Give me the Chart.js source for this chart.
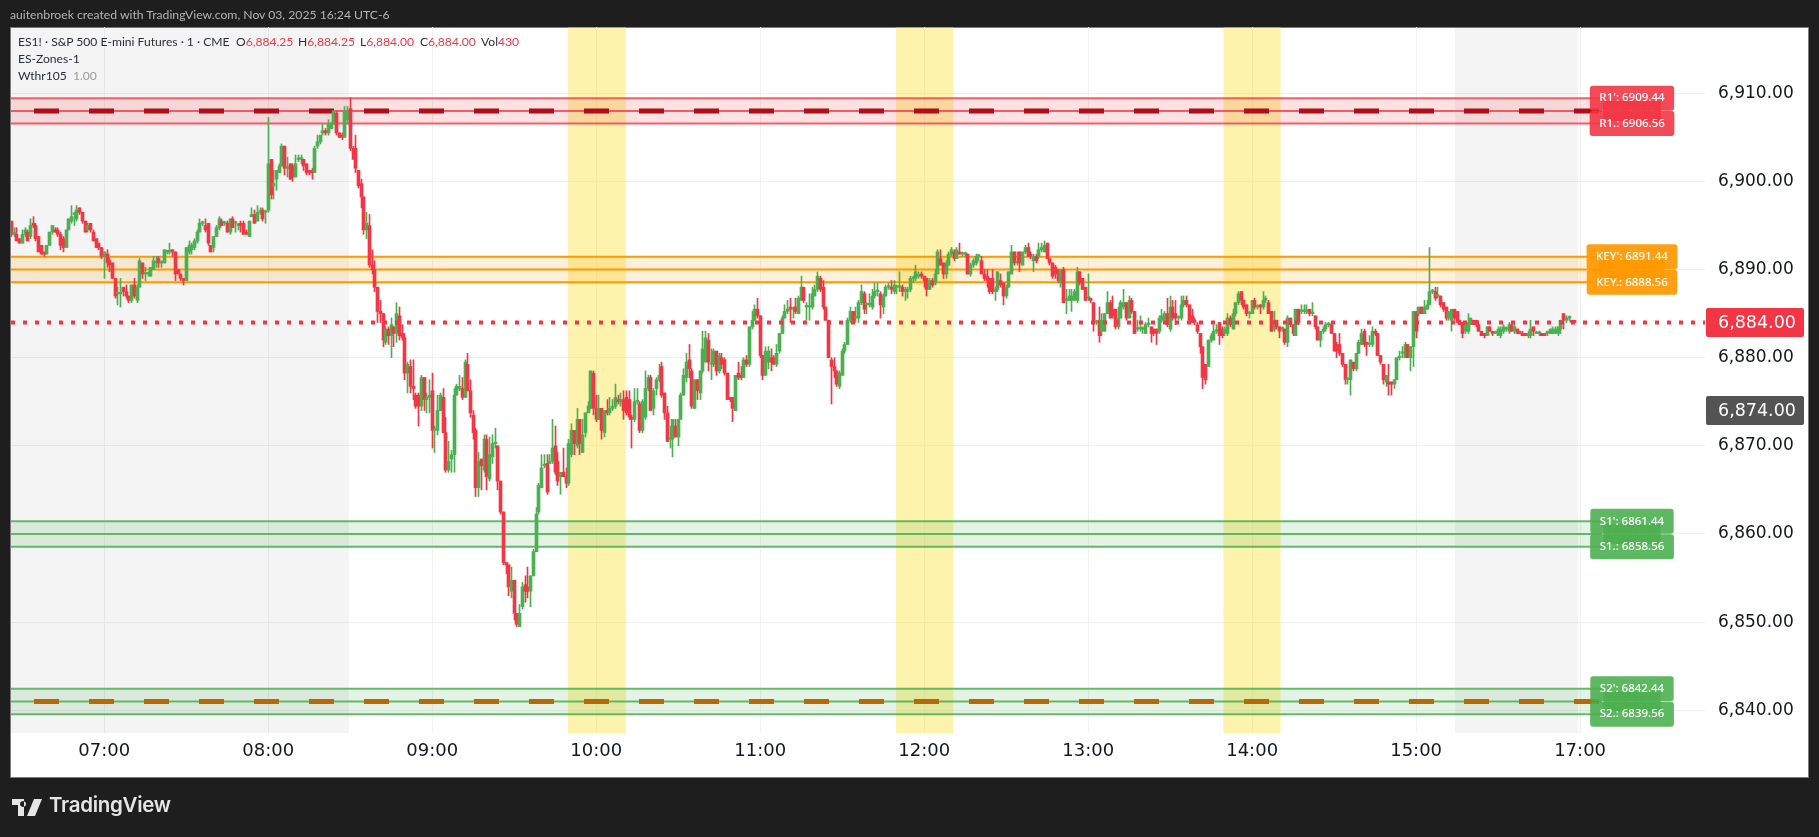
<!DOCTYPE html>
<html>
<head>
<meta charset="utf-8">
<title>ES1! 1 minute</title>
<script src="https://cdn.jsdelivr.net/npm/chart.js@4/dist/chart.umd.min.js"></script>
<style>
  html, body { margin: 0; padding: 0; background: #1e1e1e; overflow: hidden; }
  #wrap { position: relative; width: 1819px; height: 837px; }
  canvas { position: absolute; left: 0; top: 0; }
  .txt { position: absolute; white-space: pre; font-family: Lato, sans-serif; }
  #credit { left: 10px; top: 7px; font-size: 12.2px; letter-spacing: 0; color: #b4b4b4; }
  .leg { font-size: 12.1px; color: #2a2e39; }
  .leg b { font-weight: 400; color: #f23645; }
  .leg i { font-style: normal; color: #9a9a9a; }
  #brand { left: 49px; top: 792px; font-family: Inter, sans-serif; font-size: 20.5px; font-weight: 600; color: #e6e6e6; letter-spacing: -0.3px; }
  #logo { position: absolute; left: 12px; top: 799px; }
</style>
</head>
<body>
<div id="wrap">
  <canvas id="chart" width="1819" height="837"></canvas>
  <div class="txt" id="credit">auitenbroek created with TradingView.com, Nov 03, 2025 16:24 UTC-6</div>
  <div class="txt leg" style="left:18px;top:34px">ES1! · S&amp;P 500 E-mini Futures · 1 · CME</div>
  <div class="txt leg" style="left:236px;top:34px">O<b>6,884.25</b></div>
  <div class="txt leg" style="left:298px;top:34px">H<b>6,884.25</b></div>
  <div class="txt leg" style="left:360px;top:34px">L<b>6,884.00</b></div>
  <div class="txt leg" style="left:420px;top:34px">C<b>6,884.00</b></div>
  <div class="txt leg" style="left:481px;top:34px">Vol<b>430</b></div>
  <div class="txt leg" style="left:18px;top:51px">ES-Zones-1</div>
  <div class="txt leg" style="left:18px;top:68px">Wthr105  <i>1.00</i></div>
  <svg id="logo" width="30" height="17" viewBox="0 0 30 17"><path fill="#e6e6e6" d="M0 0h12v17H6V6H0zM14 5a3 3 0 1 0 0 .01zM22 0h8l-7 17h-8z"/></svg>
  <div class="txt" id="brand">TradingView</div>
</div>
<script>
// bar number 0 is 07:00, one bar per minute
const firstBar = -34;

const opens = [
  6895.5,6894,6894,6893.5,6893,6894,6894.25,6893.75,6895.25,6895,
  6893.75,6892.75,6892,6891.75,6892.75,6894.25,6894.5,6894.5,6894,6893.5,
  6892.5,6894.5,6895.5,6896.25,6895.75,6897,6896.5,6895.5,6894.5,6895.25,
  6894.25,6893.5,6893,6892.5,6891.5,6891.75,6891,6890.75,6889,6887.25,
  6887.25,6888,6887.5,6887,6886.5,6888.25,6886.5,6888,6890.75,6889.5,
  6889.5,6889.25,6890,6890.75,6891.25,6890.75,6890.75,6892,6892,6892.25,
  6892,6890,6889.5,6889,6888.75,6892,6892.25,6892.5,6893.25,6894.25,
  6895.25,6895,6895.25,6892.75,6892.5,6893.75,6894.75,6895.5,6895.25,6895.25,
  6894.25,6895.75,6895.25,6895,6895.25,6895.25,6894.25,6893.75,6896,6896.25,
  6895.5,6896.5,6896.75,6896.5,6896.75,6902.5,6899.5,6900.25,6901,6901.75,
  6904,6901.5,6902,6901.75,6900.5,6902.5,6902.5,6902.5,6902,6901.25,
  6901.25,6901,6904,6904.5,6905.5,6905.75,6905.5,6906,6906.5,6907.75,
  6905.5,6905.25,6905,6907,6908.25,6903.75,6903.75,6901.25,6899.75,6898.25,
  6894.5,6895,6890.5,6890,6888,6885.25,6885,6881.75,6883.25,6882.5,
  6883.5,6882.75,6884.75,6882.75,6882.25,6878.25,6879,6876.75,6875.75,6875.75,
  6874.5,6877.75,6875.25,6875.5,6876.25,6871.75,6871.75,6874,6875.5,6871.5,
  6867.25,6868.5,6869,6875.75,6876.5,6876.5,6875.5,6879.25,6876.25,6873.5,
  6871.75,6865.25,6868.5,6867.25,6870.75,6866.25,6868.75,6870.25,6870,6866,
  6862.5,6856.75,6856.5,6853.5,6854.75,6851,6849.5,6851.75,6854.25,6854,
  6853.5,6855.25,6858,6862.5,6865.25,6867.75,6868,6868,6868.25,6870,
  6868.25,6866.5,6867,6866.5,6865.75,6869,6871.75,6870,6873,6869.25,
  6871.5,6873.75,6874.25,6878.25,6874.25,6873,6874.25,6871.5,6874,6873.75,
  6874.25,6874.5,6875.25,6875,6875.25,6875.5,6875.25,6873.25,6873,6875,
  6874.75,6871.75,6873.25,6876.5,6877.75,6874.25,6876.5,6877.5,6879,6876,
  6873.75,6870.75,6870.75,6872.25,6871,6873,6875.75,6877.75,6879.75,6878.5,
  6874.25,6877.5,6876,6878.5,6879.5,6882,6879.25,6879.25,6880.75,6878.5,
  6880,6879.75,6878.25,6875.5,6875.5,6874,6878.25,6878,6877.75,6879.75,
  6879.25,6883.5,6884.25,6885.5,6884.75,6880.25,6878,6879.5,6880,6880,
  6879.25,6880.75,6882.75,6884.5,6885.25,6885.75,6885.5,6885.75,6885,6886.5,
  6888,6885.75,6885.75,6885.75,6887,6887.75,6889,6888,6885.75,6884.25,
  6879.75,6879,6878.5,6876.75,6878,6880.75,6881.5,6884.25,6885.25,6884.5,
  6884.5,6886.25,6887.25,6886,6886,6885.75,6887,6887.5,6887.25,6885.75,
  6887,6888,6888,6887.5,6888,6888,6888,6887.5,6887.5,6887.75,
  6889,6889,6889.25,6889.5,6889.25,6889,6887.75,6888.75,6888.5,6889.5,
  6891.25,6890.75,6889.5,6890.5,6891.75,6892,6891.25,6892,6891.75,6891.75,
  6891.75,6889.5,6890.5,6890.75,6891.5,6891,6889.5,6889.25,6889,6889,
  6887.5,6887.75,6888.75,6888.5,6887,6888,6889.5,6892,6890.75,6892,
  6890.5,6892,6892.5,6891.75,6891,6891.5,6891.5,6892.25,6892,6893,
  6891.25,6890.75,6890.25,6890,6888.5,6890,6886.5,6886.5,6886.5,6886.5,
  6886.5,6889.75,6889,6888,6886.75,6886.75,6886.25,6884,6884.25,6883,
  6883,6885,6886.25,6885.5,6885.5,6883.5,6884.5,6885.75,6886.25,6884.5,
  6886.5,6885.25,6883.25,6883.25,6883.25,6882.75,6883.75,6883.5,6883.25,6883.25,
  6883,6884.25,6884.25,6885,6883.25,6885.75,6885,6884.5,6884.5,6886,
  6886.5,6886,6884.75,6884.25,6883.75,6882.75,6881.25,6879.25,6879,6882,
  6882,6883,6884,6883.25,6882.75,6882.75,6884.5,6883.25,6885,6886.25,
  6887.5,6886.5,6886,6885,6885,6886.5,6885.75,6886,6885.75,6886.5,
  6886.25,6885.25,6883.25,6884.25,6883.5,6883.25,6883.25,6881.75,6884.5,6883.75,
  6882.5,6885.5,6885.25,6885.25,6885.25,6885.5,6885,6884.75,6883.5,6882,
  6883,6883.25,6883.75,6883.75,6882.75,6881.5,6881.5,6880.5,6879.25,6877.5,
  6877.5,6879.5,6878.75,6880.5,6881.5,6883,6881.75,6881.5,6881.5,6883,
  6882.75,6880.25,6879.25,6877.25,6877.25,6877.25,6877,6877.5,6880,6880.5,
  6880,6881.5,6880,6881.25,6885.25,6885,6885.75,6885,6885.5,6886,
  6887.5,6887.5,6887,6887,6886.25,6885.75,6884.5,6884.25,6885.5,6885.25,
  6884.25,6884,6883,6883,6883.75,6884.25,6884.25,6883.75,6883,6882.75,
  6882.5,6883.5,6883,6882.75,6882.5,6882.5,6883,6883.25,6883,6883.75,
  6883,6883.25,6883,6882.75,6882.75,6882.5,6882.5,6883.5,6882.75,6882.75,
  6882.75,6882.75,6882.75,6882.75,6882.75,6882.75,6882.75,6883.25,6885,6884.25,
  6884.5,6884.25,6884.25
];
const closes = [
  6894,6894.25,6893.25,6893,6894,6894.5,6893.25,6895,6895,6893.5,
  6892,6891.75,6891.75,6892.75,6894.25,6895,6894.25,6894,6892.75,6892.5,
  6894.5,6895.75,6896,6896.25,6896.75,6896.5,6895.5,6894.25,6895,6894.5,
  6893.25,6892.5,6892.5,6891.5,6892,6890.75,6890.5,6889,6887,6887.25,
  6887.25,6887.5,6887,6886.5,6888.25,6887,6888,6891,6889.5,6889.5,
  6889.5,6890.25,6891,6890.75,6890.75,6890.75,6892.25,6892,6892,6892,
  6889.5,6889.5,6889,6888.75,6892.5,6892.75,6892.75,6893.25,6894.25,6895.25,
  6895.25,6894.5,6893,6892,6893.75,6894.75,6895.75,6895,6895.25,6894.25,
  6895.75,6894.75,6895.25,6895,6895,6894,6894,6895.5,6896.25,6895.25,
  6896.5,6896.5,6895.75,6896.5,6902,6898.5,6899.75,6901.25,6901.75,6904,
  6901.5,6901.5,6900.25,6900.5,6902,6902.5,6902.5,6901.75,6901,6901,
  6901,6903.75,6904.5,6905.25,6905.75,6905.5,6906.5,6906.5,6908,6905.5,
  6905,6905,6908,6908,6903.75,6902.5,6901.5,6899.5,6898.25,6894.5,
  6895.25,6890.5,6890,6888,6885.25,6885,6882,6883.25,6882.5,6883.75,
  6882.75,6885,6882.5,6882.25,6878.25,6879.25,6876.75,6876.5,6874.5,6874.5,
  6877.75,6875.25,6875.5,6875.75,6871.75,6871.75,6874,6875.75,6871.5,6867.25,
  6868.25,6869,6875.75,6876.75,6876.75,6875.5,6879.5,6876.25,6873.75,6871.5,
  6865.25,6868.25,6867.75,6870.75,6866.5,6869,6870.25,6870.25,6866,6862.5,
  6856.75,6856.5,6854,6854.75,6851,6849.75,6851,6854,6853.5,6853.5,
  6855.25,6858,6862.25,6865.5,6867.5,6867.75,6864.75,6868.25,6869.75,6867,
  6866,6867,6866.5,6865.75,6870.25,6871.75,6870.25,6873,6870.25,6871.25,
  6873.75,6874.5,6878.5,6874.25,6873,6874.25,6871.75,6874,6873.75,6874.25,
  6874.5,6875.5,6875,6875.25,6874,6873.75,6873.25,6873,6875,6875,
  6871.75,6875,6876.5,6877.75,6874,6876.25,6877.5,6878,6875.75,6873.75,
  6870.5,6870.75,6873,6871,6873,6875.75,6878,6879.5,6878.75,6874.5,
  6877.5,6876.25,6878.5,6881,6882.25,6879.5,6879.25,6880.75,6878.5,6880.25,
  6879.25,6878.25,6875.25,6875.25,6874.25,6878,6877.75,6877.75,6879.75,6879.25,
  6883.5,6884.25,6885.5,6884.75,6880.25,6878,6880.75,6880.75,6879.5,6879.25,
  6880.5,6882.75,6884.5,6885.25,6885.5,6885.5,6885.5,6885.25,6886.75,6888,
  6886.5,6885.75,6885.75,6887.25,6887.75,6889.25,6887.75,6885.75,6884.25,6880,
  6879,6878.5,6877,6878.25,6880.75,6881.5,6884.25,6885.25,6884.25,6884.5,
  6886.25,6887.5,6885.5,6886,6886,6887,6887.5,6887.5,6886,6887,
  6888,6888,6887.75,6888.25,6888,6888,6887.5,6887.75,6887.75,6889,
  6889,6889.75,6889.25,6889.25,6888.75,6887.75,6888.75,6888.25,6889.5,6892,
  6890.5,6889.5,6890.75,6891.75,6892.25,6891.25,6892.25,6891.75,6891.75,6891.75,
  6889.5,6890.5,6891,6891.5,6891.5,6889.5,6889,6888.75,6887.5,6887.5,
  6887.75,6889.75,6888.25,6887,6888,6889.75,6892,6890.75,6890.75,6890.75,
  6892,6892.5,6891.5,6891.5,6891.5,6891,6892.25,6892.5,6892.75,6891.25,
  6890.75,6889.25,6889.5,6888.75,6890,6886.25,6886.5,6887,6887,6887.5,
  6889.75,6888.5,6887.75,6886.5,6886.75,6886.5,6884,6884,6882.5,6884.25,
  6885,6886.25,6884.5,6884.75,6883.5,6884.5,6886.25,6886.25,6884.5,6886.5,
  6885.25,6882.75,6883.25,6883.25,6883.25,6883.75,6883.75,6882.75,6882.75,6882.75,
  6884.5,6884.75,6885,6883.75,6885.75,6884.5,6884.5,6884.5,6886,6886.5,
  6886,6884.25,6884,6884,6883,6881.25,6877.75,6877.5,6882,6882.5,
  6883,6883,6882.5,6882.5,6883.25,6884.5,6883.75,6885,6886.25,6887.25,
  6886.5,6885.75,6885,6885,6886.5,6885.75,6885.75,6885.75,6886.5,6886.75,
  6885,6883,6884.25,6883.5,6883,6883.25,6881.75,6884.5,6883.75,6882.75,
  6885.5,6884,6885.25,6885.25,6885.25,6885,6885,6883.5,6882,6883,
  6883.25,6883.75,6883.75,6882.75,6880.75,6880.75,6880.5,6879.25,6877.5,6877.5,
  6879.75,6878.75,6880.5,6881.75,6882.75,6881.5,6881.5,6881.5,6883,6882.75,
  6880.25,6879.5,6877.5,6878,6877,6877,6877.5,6880,6880,6880.5,
  6881.5,6880,6881.25,6885.25,6883,6885.75,6885,6885.75,6886,6887.5,
  6887.5,6886.75,6887,6886,6885.5,6884.5,6885.25,6885.5,6884.5,6884,
  6883.75,6882.75,6884,6884,6884.5,6883.75,6883.75,6883,6882.5,6882.5,
  6883.5,6883,6882.75,6883,6883.25,6883.25,6883.5,6883.25,6883.75,6883,
  6883.5,6882.75,6882.75,6882.5,6882.5,6882.75,6883.25,6883,6882.75,6882.75,
  6882.5,6882.5,6883,6883.25,6883.25,6883.25,6883.5,6884.25,6884.25,6884.5,
  6884.5,6884,6884
];
const highs = [
  6895.5,6894.75,6894.75,6893.5,6894.5,6894.75,6894.5,6895.75,6896,6895.25,
  6893.75,6892.75,6892,6892.75,6894.25,6895,6894.75,6894.75,6894.25,6893.75,
  6894.5,6895.75,6897.25,6896.5,6897.25,6897,6896.5,6895.5,6895.25,6895.25,
  6894.5,6893.5,6893,6892.5,6892,6892.25,6891.25,6890.75,6889,6888,
  6889,6888,6888.25,6887,6888.25,6889,6888.25,6891.25,6890.75,6890.25,
  6889.75,6890.25,6891.5,6891.5,6891.5,6891,6892.25,6892,6893,6892.25,
  6892,6890,6889.5,6889,6892.5,6893.25,6893,6893.5,6894.5,6895.75,
  6895.5,6895.75,6895.25,6892.75,6893.75,6895,6896,6895.75,6895.5,6895.5,
  6895.75,6896,6895.5,6895.25,6895.5,6895.5,6894.5,6895.5,6897,6896.75,
  6897.25,6897,6897,6896.75,6907.25,6902.5,6901.25,6901.25,6902,6904.25,
  6904,6902.75,6902,6902,6903,6903,6903,6902.5,6902,6901.25,
  6901.5,6904,6905.25,6905.25,6906.5,6906,6907,6906.75,6908,6908,
  6905.5,6905.5,6908.5,6908.5,6909.5,6904,6905.25,6901.25,6900.25,6898.25,
  6896.5,6896.25,6892.25,6891,6888,6886.5,6885,6883.5,6883.5,6884.5,
  6883.5,6886.25,6885.75,6883.75,6882.75,6879.5,6879.75,6879.75,6876,6876,
  6878,6877.75,6876,6877.5,6878.25,6872.25,6875.75,6876,6876.5,6873.25,
  6870.5,6869.5,6876.5,6877,6878,6877.75,6879.75,6880.5,6877.5,6874,
  6872,6869.25,6868.5,6871.25,6871.25,6871,6871.25,6872,6870,6866,
  6862.5,6856.75,6856.5,6856.25,6854.75,6851,6852,6854.5,6855.25,6856.25,
  6855.25,6858.25,6863,6865.75,6869,6869,6869,6869,6873,6872.25,
  6869.25,6867,6869.75,6867.5,6870.75,6872.5,6871.75,6874.25,6873,6873,
  6873.75,6875,6878.5,6878.5,6875.75,6875.75,6874.25,6874,6875.25,6875.5,
  6875.25,6877,6875.75,6876,6876.25,6876.25,6876.25,6873.5,6876.5,6876.5,
  6875,6875.25,6878.5,6878,6878,6876.5,6877.75,6879.25,6879.5,6876,
  6874.5,6872.25,6873,6873,6873,6876,6878.75,6880.5,6881.5,6878.75,
  6877.5,6877.5,6878.5,6883,6883,6882.75,6881,6881,6880.75,6880.5,
  6880.5,6880,6878.25,6875.5,6875.5,6878,6879.5,6879,6880,6880.25,
  6883.5,6885.25,6886,6886.75,6884.75,6880.25,6881.25,6881.25,6881,6880.25,
  6881.5,6882.75,6884.75,6886,6886.5,6886.75,6885.75,6886.75,6887,6889.25,
  6888,6886.25,6887.25,6888,6888.25,6889.75,6889.25,6888.75,6885.75,6884.25,
  6880,6880,6878.5,6878.5,6881,6881.75,6884.5,6885.75,6885.25,6885.75,
  6886.5,6888.25,6887.5,6886.25,6887.25,6887.75,6888.5,6888.5,6887.5,6887.25,
  6888.25,6888.5,6888.75,6888.75,6888.25,6889.75,6888.25,6888,6888,6889.25,
  6889.25,6890.5,6889.75,6889.75,6889.25,6889,6889,6889,6890,6892.25,
  6892.25,6890.75,6891,6892,6892.5,6892.25,6892.5,6893,6892,6892,
  6891.75,6890.75,6891.25,6891.75,6891.75,6891.5,6890,6890,6889,6890,
  6888,6889.75,6889.5,6888.5,6888.25,6889.75,6892.75,6892,6892,6892,
  6892,6892.75,6893,6892,6891.75,6891.75,6893,6893,6893.25,6893,
  6891.25,6890.75,6890.5,6890,6890,6890.25,6887.75,6887.75,6887.75,6887.75,
  6890.25,6889.75,6889,6888,6889.5,6886.75,6886.25,6884.25,6885.75,6885,
  6885,6887.5,6886.5,6887,6885.5,6885.75,6886.5,6887.75,6886.25,6887,
  6886.75,6885.25,6884.25,6884.75,6883.5,6884,6884.5,6883.5,6883.25,6883.25,
  6884.75,6885.5,6885.25,6886.75,6887,6886.5,6886.5,6884.75,6887,6887,
  6887,6886,6885.5,6884.5,6884,6882.75,6881.25,6879.25,6882,6882.75,
  6883.75,6883.75,6884,6883.5,6883.5,6885,6884.75,6885.5,6886.25,6887.5,
  6887.5,6886.5,6886,6885.25,6886.5,6886.75,6886,6886,6887.5,6887,
  6886.5,6885.25,6885.25,6884.25,6883.5,6883.5,6883.25,6884.75,6884.5,6883.75,
  6885.5,6885.5,6886,6886,6886,6885.5,6886.25,6884.75,6883.5,6883,
  6883.5,6884,6884,6884,6882.75,6881.75,6882.75,6880.5,6879.25,6877.75,
  6879.75,6879.5,6880.5,6882,6883.25,6883.25,6881.75,6882.5,6883.5,6883.25,
  6882.75,6880.25,6879.25,6878,6879.25,6877.25,6877.5,6880,6880.75,6881.25,
  6881.75,6881.5,6881.25,6885.25,6885.25,6885.75,6885.75,6886.5,6886.5,6892.5,
  6887.75,6888,6888,6887,6886.25,6885.75,6885.25,6885.5,6885.5,6885.25,
  6884.25,6884,6884,6885,6884.5,6884.25,6884.25,6883.75,6883,6882.75,
  6883.5,6883.5,6883,6883,6883.5,6883.5,6883.75,6883.5,6884,6883.75,
  6883.75,6883.25,6883,6883,6882.75,6883,6884.25,6883.5,6883,6883,
  6882.75,6882.75,6883,6883.25,6883.5,6883.5,6883.5,6884.25,6885,6884.75,
  6884.75,6884.25,6884.25
];
const lows = [
  6893.75,6893.75,6893.25,6893,6893,6893.75,6893.25,6893.5,6894.75,6893.25,
  6892,6891.75,6891.5,6891.75,6892.75,6894,6894.25,6893.75,6892.25,6892,
  6892.5,6894.5,6895.25,6895,6895.5,6896.25,6895.25,6894.25,6894.25,6894.25,
  6893.25,6892.5,6892.25,6891.25,6889,6890.25,6889.75,6889,6886.75,6886,
  6885.75,6887,6886.75,6886.25,6886.25,6886.75,6886.25,6888,6889,6888.75,
  6889.25,6889.25,6890,6890.25,6890.25,6890.25,6890.75,6891.75,6891.75,6891.5,
  6888.75,6889.5,6888.75,6888.25,6888.75,6891.75,6891.75,6892.25,6893,6894.25,
  6895,6894.25,6892.75,6892,6892,6893.75,6894.5,6895,6895,6894.25,
  6894,6894.75,6894.25,6894.5,6894.25,6894,6894,6893.75,6896,6895.25,
  6895.5,6896.25,6895.5,6895.25,6896.5,6898,6898,6899,6901,6901.75,
  6900.75,6900.5,6900.25,6900,6900.5,6902.25,6902,6901.25,6900.75,6900.75,
  6900.25,6901,6903.75,6904.25,6905.25,6905.25,6905.25,6906,6906.5,6905.25,
  6905,6904.75,6905,6906.5,6903.5,6902.5,6901,6899.25,6897,6894,
  6893.5,6890.25,6889.5,6887.5,6884,6884,6881.25,6881.5,6881.5,6880,
  6881.25,6881.75,6882,6882,6877.5,6876,6876,6875.25,6874.25,6872.25,
  6874,6874,6873.75,6873.75,6869.75,6869.25,6871.25,6874,6871.5,6867,
  6867,6867,6867,6875.75,6876.25,6875.25,6875.5,6876.25,6873.25,6870.75,
  6864.25,6864.25,6865,6867,6865,6866,6868,6869.75,6865,6862.25,
  6856.5,6855.5,6853,6852.75,6850.25,6849.5,6849.5,6851.5,6852.25,6852.75,
  6851.75,6855.25,6858,6862.25,6865.25,6867.5,6864.5,6868,6868,6866.75,
  6865.5,6864.5,6866.5,6865.25,6865.5,6868.75,6869,6869.75,6869,6869.25,
  6871,6873.75,6874.25,6873.5,6872.75,6873,6870.75,6871,6873.5,6873.5,
  6874,6874.25,6874.75,6874.5,6873,6873.5,6873,6869.75,6872.75,6874.75,
  6871.5,6871.5,6873,6876.25,6874,6873.5,6875.75,6877.25,6875.5,6873,
  6870.5,6869.75,6868.75,6871,6870,6873,6875.75,6877.25,6877.75,6874.25,
  6874.25,6875.25,6875.25,6878.25,6879.5,6878.5,6877.5,6879,6878,6878.25,
  6878.75,6878,6875.25,6875,6872.75,6874,6877.5,6877.5,6877.75,6879,
  6879,6883.25,6884.25,6884.5,6880,6877.5,6878,6878.75,6878.5,6879.25,
  6879,6880.5,6882.75,6884.5,6885,6884,6884.5,6885,6885,6886.5,
  6886.25,6884.25,6884.25,6885.5,6887,6887.5,6887.5,6885.5,6884.25,6880,
  6874.75,6877.75,6876.75,6876.5,6878,6880.5,6881.5,6884,6884,6884,
  6884,6886,6885,6885,6885.75,6885.5,6886.75,6887,6884.5,6885,
  6887,6887.75,6887.25,6887.25,6887.25,6887.5,6887,6886.5,6886.75,6887.5,
  6888.5,6888.75,6889,6889,6888,6887,6887.75,6888,6888.25,6889.5,
  6890.5,6889,6889,6890.5,6891.5,6891,6891.25,6891.75,6891.5,6891.5,
  6889.5,6889.25,6890.25,6890.5,6891,6889.5,6888.75,6888,6887.25,6887.25,
  6886.5,6887.5,6888,6886,6886.75,6888,6889.5,6890.5,6890.5,6889.75,
  6890.5,6891.75,6891.5,6891.25,6889.75,6890.75,6891.25,6892,6892,6891.25,
  6890.5,6889,6889,6888.5,6888,6886.25,6885,6886.5,6885.25,6886.5,
  6886.25,6888.25,6887.75,6886.5,6886.5,6886.25,6883,6883.75,6881.75,6882.5,
  6883,6885,6884.5,6884.5,6883.25,6883.25,6884.5,6885.5,6884.25,6884.5,
  6885,6882.75,6883,6883,6882.75,6882.75,6883.5,6881.75,6882.5,6881.5,
  6882.75,6884,6884,6883.5,6883,6884.25,6883.75,6884.25,6884.25,6885.75,
  6885.75,6884.25,6884,6883.75,6882.75,6880.5,6876.5,6877,6879,6881.75,
  6882,6882.75,6881.5,6882.25,6882.5,6882.5,6883.5,6883.25,6884.75,6886,
  6886,6885.5,6884.75,6884.5,6885,6885.5,6885.5,6885,6885.5,6886.25,
  6885,6883,6883,6883.25,6882.25,6883,6881.5,6881.25,6883.5,6882.5,
  6882.5,6883.75,6885,6885,6885,6884.75,6884.75,6883.25,6882,6881.25,
  6882.75,6883,6883.5,6882.75,6880.75,6880,6880.25,6879,6877,6877,
  6875.75,6878.5,6878.5,6880.5,6881.5,6881.25,6880.25,6881.25,6881.25,6882.5,
  6880.25,6879.25,6877,6876.75,6875.75,6875.75,6876.5,6877.5,6879.75,6880,
  6880,6880,6878.5,6879,6882.25,6884.75,6885,6885,6885.5,6886,
  6887.25,6886.5,6886.75,6885.75,6885.25,6884.25,6884.25,6883,6884.25,6884,
  6883.75,6882.25,6882.75,6882.75,6883.75,6883.75,6883.5,6883,6882.5,6882.25,
  6882.5,6883,6882.5,6882.75,6882.5,6882.25,6882.75,6883,6882.75,6883,
  6882.75,6882.75,6882.75,6882.5,6882.5,6882.25,6882.25,6882.5,6882.75,6882.5,
  6882.75,6882.5,6882.5,6882.75,6882.75,6882.75,6882.5,6882.75,6883.25,6884,
  6884.25,6884.25,6884,6884
];

const hourTicks = [0, 60, 120, 180, 240, 300, 360, 420, 480, 540];
const hourLabels = ['07:00', '08:00', '09:00', '10:00', '11:00', '12:00', '13:00', '14:00', '15:00', '17:00'];
const priceTicks = [6840, 6850, 6860, 6870, 6880, 6890, 6900, 6910];

// zones: name, top, middle, bottom
const zoneNames = ['R1', 'KEY', 'S1', 'S2'];
const zoneTops = [6909.44, 6891.44, 6861.44, 6842.44];
const zoneMids = [6908, 6890, 6860, 6841];
const zoneBottoms = [6906.56, 6888.56, 6858.56, 6839.56];

const sessionStarts = [-34.14, 494.2];
const sessionEnds = [89.5, 539.2];
const newsStarts = [169.7, 289.7, 409.5];
const newsEnds = [190.8, 310.6, 430.4];

const lastPrice = 6884;
const countdownPrice = 6874;

const UP = '#4caf50';
const DOWN = '#f23645';
const X_MIN = -34.14, X_MAX = 585.7, ZONE_END = 548;
const zoneColors = [
  { line: 'rgba(242,54,69,0.78)', fill: 'rgba(242,54,69,0.15)', badge: 'rgba(242,54,69,0.9)', dash: '#b00d18' },
  { line: '#ff9800', fill: 'rgba(255,152,0,0.15)', badge: 'rgba(255,152,0,0.92)' },
  { line: 'rgba(76,175,80,0.85)', fill: 'rgba(76,175,80,0.15)', badge: 'rgba(76,175,80,0.9)' },
  { line: 'rgba(76,175,80,0.85)', fill: 'rgba(76,175,80,0.15)', badge: 'rgba(76,175,80,0.9)', dash: '#b56a08' }
];

const barX = opens.map((_, n) => firstBar + n);
const barColors = opens.map((o, n) => closes[n] >= o ? UP : DOWN);

function hLine(y, color, width, extra) {
  return Object.assign({
    type: 'line',
    data: [{ x: X_MIN, y: y }, { x: ZONE_END, y: y }],
    borderColor: color,
    borderWidth: width,
    pointRadius: 0,
    order: 4
  }, extra);
}

const datasets = [
  // wicks and bodies are floating bars
  {
    type: 'bar', data: barX.map((x, n) => ({ x: x, y: [lows[n], highs[n]] })),
    backgroundColor: barColors, barThickness: 1, grouped: false, order: 2
  },
  {
    type: 'bar', data: barX.map((x, n) => ({ x: x, y: [opens[n], closes[n]] })),
    backgroundColor: barColors, barThickness: 3, grouped: false, minBarLength: 1.5, order: 1
  },
  // last price dotted line
  {
    type: 'line', data: [{ x: X_MIN, y: lastPrice }, { x: X_MAX, y: lastPrice }],
    borderColor: DOWN, borderWidth: 4, borderDash: [4, 8], pointRadius: 0, order: 0
  }
];

zoneNames.forEach((name, n) => {
  const c = zoneColors[n];
  datasets.push(hLine(zoneTops[n], c.line, 2, { fill: { value: zoneBottoms[n] }, backgroundColor: c.fill }));
  datasets.push(hLine(zoneBottoms[n], c.line, 2));
  datasets.push(hLine(zoneMids[n], c.line, 2));
  if (c.dash) {
    datasets.push(hLine(zoneMids[n], c.dash, 5, { borderDash: [25, 30], borderDashOffset: 32, order: 3 }));
  }
});

// dark frame and white panel
const framePlugin = {
  id: 'frame',
  beforeDraw(chart) {
    const ctx = chart.ctx;
    ctx.save();
    ctx.fillStyle = '#1e1e1e';
    ctx.fillRect(0, 0, 1819, 837);
    ctx.fillStyle = '#ffffff';
    ctx.strokeStyle = '#7c7c7c';
    ctx.lineWidth = 1;
    ctx.fillRect(10, 27, 1798, 750);
    ctx.strokeRect(10.5, 27.5, 1798, 750);
    ctx.restore();
  },
  // session and news backgrounds
  beforeDatasetsDraw(chart) {
    const ctx = chart.ctx, x = chart.scales.x, a = chart.chartArea;
    ctx.save();
    ctx.fillStyle = 'rgba(0,0,0,0.045)';
    sessionStarts.forEach((s, n) => {
      const l = x.getPixelForValue(s);
      ctx.fillRect(l, a.top, x.getPixelForValue(sessionEnds[n]) - l, a.bottom - a.top);
    });
    ctx.fillStyle = 'rgba(251,225,50,0.4)';
    newsStarts.forEach((s, n) => {
      const l = x.getPixelForValue(s);
      ctx.fillRect(l, a.top, x.getPixelForValue(newsEnds[n]) - l, a.bottom - a.top);
    });
    ctx.restore();
  },
  // keep candles on whole pixels
  beforeDatasetDraw(chart, args) {
    if (args.meta.type !== 'bar') return;
    args.meta.data.forEach(el => { el.x = Math.floor(el.x) + 0.5; });
  }
};

function roundedBox(ctx, cx, cy, w, h, r, color) {
  ctx.fillStyle = color;
  ctx.beginPath();
  ctx.roundRect(cx - w / 2, cy - h / 2, w, h, r);
  ctx.fill();
}

// zone badges and the price tags on the axis
const badgePlugin = {
  id: 'badges',
  afterDraw(chart) {
    const ctx = chart.ctx, y = chart.scales.y, cx = 1632;
    ctx.save();
    ctx.textAlign = 'center';
    ctx.textBaseline = 'middle';
    ctx.font = '500 11.5px "Noto Sans"';
    zoneNames.forEach((name, n) => {
      const c = zoneColors[n];
      const mid = y.getPixelForValue(zoneMids[n]);
      const ghost = name + ': ' + zoneMids[n];
      roundedBox(ctx, cx, mid, ctx.measureText(ghost).width + 12, 20, 2, c.badge);
      ctx.fillStyle = 'rgba(255,255,255,0.13)';
      ctx.fillText(ghost, cx, mid + 1);
      [[name + "': ", zoneTops[n]], [name + '.: ', zoneBottoms[n]]].forEach(b => {
        const t = b[0] + b[1].toFixed(2), py = y.getPixelForValue(b[1]);
        roundedBox(ctx, cx, py, ctx.measureText(t).width + 19, 25, 3, c.badge);
        ctx.fillStyle = '#ffffff';
        ctx.fillText(t, cx, py);
      });
    });
    ctx.font = '17.5px "DejaVu Sans"';
    ctx.textAlign = 'left';
    [[lastPrice, DOWN], [countdownPrice, '#535353']].forEach(p => {
      const py = y.getPixelForValue(p[0]);
      ctx.fillStyle = p[1];
      ctx.beginPath();
      ctx.roundRect(1706, py - 14.5, 98, 29, 2);
      ctx.fill();
      ctx.fillStyle = '#ffffff';
      ctx.fillText(p[0].toLocaleString('en-US', { minimumFractionDigits: 2 }), 1718, py + 1);
    });
    ctx.restore();
  }
};

new Chart(document.getElementById('chart'), {
  data: { datasets: datasets },
  plugins: [framePlugin, badgePlugin],
  options: {
    responsive: false,
    animation: false,
    devicePixelRatio: 1,
    layout: { padding: { left: 11, right: 11, top: 27, bottom: 60 } },
    plugins: { legend: { display: false }, tooltip: { enabled: false } },
    scales: {
      x: {
        type: 'linear', min: X_MIN, max: X_MAX, offset: false,
        grid: { color: '#f0f1f2', drawTicks: false, offset: false },
        border: { display: false },
        afterBuildTicks(axis) { axis.ticks = hourTicks.map(v => ({ value: v })); },
        afterFit(axis) { axis.height = 44; },
        ticks: {
          autoSkip: false, maxRotation: 0, padding: 8, color: '#131722',
          font: { family: '"DejaVu Sans"', size: 18 },
          callback: v => hourLabels[hourTicks.indexOf(v)]
        }
      },
      y: {
        type: 'linear', position: 'right', min: 6837.42, max: 6917.52,
        grid: { color: '#f0f1f2', drawTicks: false },
        border: { display: false },
        afterBuildTicks(axis) { axis.ticks = priceTicks.map(v => ({ value: v })); },
        afterFit(axis) { axis.width = 103; },
        ticks: {
          padding: 13, color: '#131722',
          font: { family: '"DejaVu Sans"', size: 17 },
          callback: v => v.toLocaleString('en-US', { minimumFractionDigits: 2 })
        }
      }
    }
  }
});
</script>
</body>
</html>
